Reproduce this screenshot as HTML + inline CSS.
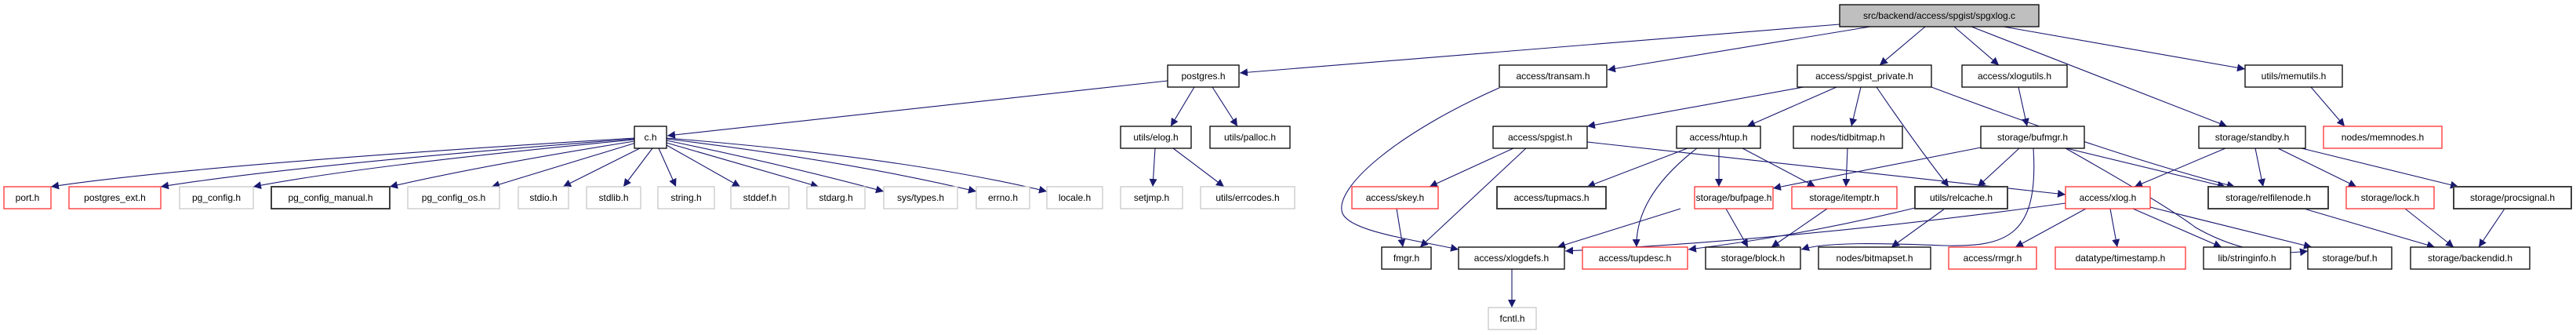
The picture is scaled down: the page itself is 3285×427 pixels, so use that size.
<!DOCTYPE html>
<html><head><meta charset="utf-8"><style>
html,body{margin:0;padding:0;background:#fff;width:3285px;height:427px;overflow:hidden}
svg{display:block}
text{font-family:"Liberation Sans",sans-serif;font-size:12px;fill:#000;text-anchor:middle}
.n{fill:#fff;stroke:#000;stroke-width:1.3}
.r{fill:#fff;stroke:#ff3030;stroke-width:1.3}
.g{fill:#fff;stroke:#c8c8c8;stroke-width:1.3}
.d{fill:#fff;stroke:#404040;stroke-width:2}
.e{fill:none;stroke:#191970;stroke-width:1.1;marker-end:url(#a)}
</style></head><body>
<svg width="3285" height="427" viewBox="0 0 3285 427" xmlns="http://www.w3.org/2000/svg">
<defs><marker id="a" markerUnits="userSpaceOnUse" markerWidth="12" markerHeight="10" refX="10" refY="5" orient="auto"><path d="M0,0 L10,5 L0,10 z" fill="#191970"/></marker></defs>
<g>
<!-- edges -->
<path class="e" d="M2346,31 L1581,93"/>
<path class="e" d="M2385,34 L2050,89"/>
<path class="e" d="M2455,34 L2397,83"/>
<path class="e" d="M2492,34 L2549,83"/>
<path class="e" d="M2514,34 L2840,161"/>
<path class="e" d="M2555,34 L2863,88"/>
<path class="e" d="M1489,103 L851,173"/>
<path class="e" d="M1523,111 L1493,161"/>
<path class="e" d="M1546,111 L1578,161"/>
<path class="e" d="M1912,112 C1780,170 1700,240 1712,272 C1722,295 1800,305 1860,318"/>
<path class="e" d="M809,176 Q250,210 65,238"/>
<path class="e" d="M809,177 Q380,210 205,238"/>
<path class="e" d="M809,178 Q470,210 323,238"/>
<path class="e" d="M809,180 Q620,210 497,238"/>
<path class="e" d="M811,182 L627,238"/>
<path class="e" d="M818,188 L718,238"/>
<path class="e" d="M832,189 L795,238"/>
<path class="e" d="M840,189 L862,238"/>
<path class="e" d="M850,185 L944,238"/>
<path class="e" d="M850,182 L1044,238"/>
<path class="e" d="M850,179 Q1000,210 1127,244"/>
<path class="e" d="M850,177 Q1080,205 1245,244"/>
<path class="e" d="M850,176 Q1150,200 1335,244"/>
<path class="e" d="M1473,189 L1470,238"/>
<path class="e" d="M1496,189 L1561,238"/>
<path class="e" d="M2300,111 L2024,161"/>
<path class="e" d="M2342,111 L2228,161"/>
<path class="e" d="M2373,111 L2361,161"/>
<path class="e" d="M2393,111 Q2440,180 2485,238"/>
<path class="e" d="M2463,111 Q2700,200 2850,238"/>
<path class="e" d="M2574,111 L2585,161"/>
<path class="e" d="M2947,111 L2990,161"/>
<path class="e" d="M1930,189 L1823,238"/>
<path class="e" d="M1946,189 L1811,315"/>
<path class="e" d="M2024,181 L2634,248"/>
<path class="e" d="M2152,189 L2024,238"/>
<path class="e" d="M2192,189 L2192,238"/>
<path class="e" d="M2164,189 Q2085,250 2087,315"/>
<path class="e" d="M2222,189 L2315,238"/>
<path class="e" d="M2356,189 L2354,238"/>
<path class="e" d="M2526,188 L2261,240"/>
<path class="e" d="M2575,189 L2522,238"/>
<path class="e" d="M2593,189 C2600,300 2560,315 2480,313 C2400,310 2330,308 2297,318"/>
<path class="e" d="M2635,189 L2838,238"/>
<path class="e" d="M2634,189 Q2760,260 2800,290 Q2870,330 2943,320"/>
<path class="e" d="M2838,189 L2722,238"/>
<path class="e" d="M2876,189 L2886,238"/>
<path class="e" d="M2905,189 L3005,238"/>
<path class="e" d="M2935,189 L3135,238"/>
<path class="e" d="M1781,266 L1789,315"/>
<path class="e" d="M2143,266 L1986,315"/>
<path class="e" d="M2201,266 L2229,315"/>
<path class="e" d="M2330,266 L2259,315"/>
<path class="e" d="M2634,259 Q2300,305 1996,320"/>
<path class="e" d="M2442,265 Q2300,300 2153,318"/>
<path class="e" d="M2480,266 L2412,315"/>
<path class="e" d="M2660,266 L2570,315"/>
<path class="e" d="M2691,266 L2700,315"/>
<path class="e" d="M2720,266 L2833,315"/>
<path class="e" d="M2742,264 L2948,315"/>
<path class="e" d="M2938,266 L3105,315"/>
<path class="e" d="M3067,266 L3129,315"/>
<path class="e" d="M3194,266 L3161,315"/>
<path class="e" d="M1928,343 L1928,392"/>
</g>
<g>
<!-- row1 -->
<rect x="2346" y="6" width="254" height="28" style="fill:#bfbfbf;stroke:#000;stroke-width:1.3"/><text x="2473" y="24">src/backend/access/spgist/spgxlog.c</text>
<!-- row2 -->
<rect class="n" x="1489" y="83" width="91" height="28"/><text x="1534.5" y="101">postgres.h</text>
<rect class="n" x="1912" y="83" width="137" height="28"/><text x="1980.5" y="101">access/transam.h</text>
<rect class="n" x="2292" y="83" width="171" height="28"/><text x="2377.5" y="101">access/spgist_private.h</text>
<rect class="n" x="2502" y="83" width="134" height="28"/><text x="2569" y="101">access/xlogutils.h</text>
<rect class="n" x="2863" y="83" width="124" height="28"/><text x="2925" y="101">utils/memutils.h</text>
<!-- row3 -->
<rect class="n" x="809" y="161" width="41" height="28"/><text x="829.5" y="179">c.h</text>
<rect class="n" x="1429" y="161" width="90" height="28"/><text x="1474" y="179">utils/elog.h</text>
<rect class="n" x="1543" y="161" width="102" height="28"/><text x="1594" y="179">utils/palloc.h</text>
<rect class="n" x="1904" y="161" width="120" height="28"/><text x="1964" y="179">access/spgist.h</text>
<rect class="n" x="2138" y="161" width="107" height="28"/><text x="2191.5" y="179">access/htup.h</text>
<rect class="n" x="2287" y="161" width="139" height="28"/><text x="2356.5" y="179">nodes/tidbitmap.h</text>
<rect class="n" x="2526" y="161" width="132" height="28"/><text x="2592" y="179">storage/bufmgr.h</text>
<rect class="n" x="2804" y="161" width="136" height="28"/><text x="2872" y="179">storage/standby.h</text>
<rect class="r" x="2963" y="161" width="151" height="28"/><text x="3038.5" y="179">nodes/memnodes.h</text>
<!-- row4 -->
<rect class="r" x="5" y="238" width="60" height="28"/><text x="35" y="256">port.h</text>
<rect class="r" x="88" y="238" width="117" height="28"/><text x="146.5" y="256">postgres_ext.h</text>
<rect class="g" x="229" y="238" width="94" height="28"/><text x="276" y="256">pg_config.h</text>
<rect class="d" x="346" y="238" width="151" height="28"/><text x="421.5" y="256">pg_config_manual.h</text>
<rect class="g" x="520" y="238" width="117" height="28"/><text x="578.5" y="256">pg_config_os.h</text>
<rect class="g" x="661" y="238" width="64" height="28"/><text x="693" y="256">stdio.h</text>
<rect class="g" x="748" y="238" width="69" height="28"/><text x="782.5" y="256">stdlib.h</text>
<rect class="g" x="839" y="238" width="72" height="28"/><text x="875" y="256">string.h</text>
<rect class="g" x="932" y="238" width="74" height="28"/><text x="969" y="256">stddef.h</text>
<rect class="g" x="1029" y="238" width="74" height="28"/><text x="1066" y="256">stdarg.h</text>
<rect class="g" x="1127" y="238" width="94" height="28"/><text x="1174" y="256">sys/types.h</text>
<rect class="g" x="1245" y="238" width="68" height="28"/><text x="1279" y="256">errno.h</text>
<rect class="g" x="1335" y="238" width="71" height="28"/><text x="1370.5" y="256">locale.h</text>
<rect class="g" x="1429" y="238" width="79" height="28"/><text x="1468.5" y="256">setjmp.h</text>
<rect class="g" x="1531" y="238" width="120" height="28"/><text x="1591" y="256">utils/errcodes.h</text>
<rect class="r" x="1724" y="238" width="110" height="28"/><text x="1779" y="256">access/skey.h</text>
<rect class="d" x="1909" y="238" width="139" height="28"/><text x="1978.5" y="256">access/tupmacs.h</text>
<rect class="r" x="2161" y="238" width="100" height="28"/><text x="2211" y="256">storage/bufpage.h</text>
<rect class="r" x="2285" y="238" width="134" height="28"/><text x="2352" y="256">storage/itemptr.h</text>
<rect class="d" x="2442" y="238" width="118" height="28"/><text x="2501" y="256">utils/relcache.h</text>
<rect class="r" x="2634" y="238" width="108" height="28"/><text x="2688" y="256">access/xlog.h</text>
<rect class="d" x="2816" y="238" width="153" height="28"/><text x="2892.5" y="256">storage/relfilenode.h</text>
<rect class="r" x="2992" y="238" width="112" height="28"/><text x="3048" y="256">storage/lock.h</text>
<rect class="d" x="3129" y="238" width="150" height="28"/><text x="3204" y="256">storage/procsignal.h</text>
<!-- row5 -->
<rect class="n" x="1762" y="315" width="63" height="28"/><text x="1793.5" y="333">fmgr.h</text>
<rect class="n" x="1860" y="315" width="135" height="28"/><text x="1927.5" y="333">access/xlogdefs.h</text>
<rect class="r" x="2018" y="315" width="134" height="28"/><text x="2085" y="333">access/tupdesc.h</text>
<rect class="n" x="2175" y="315" width="121" height="28"/><text x="2235.5" y="333">storage/block.h</text>
<rect class="n" x="2319" y="315" width="143" height="28"/><text x="2390.5" y="333">nodes/bitmapset.h</text>
<rect class="r" x="2485" y="315" width="112" height="28"/><text x="2541" y="333">access/rmgr.h</text>
<rect class="r" x="2621" y="315" width="166" height="28"/><text x="2704" y="333">datatype/timestamp.h</text>
<rect class="n" x="2810" y="315" width="111" height="28"/><text x="2865.5" y="333">lib/stringinfo.h</text>
<rect class="n" x="2943" y="315" width="107" height="28"/><text x="2996.5" y="333">storage/buf.h</text>
<rect class="n" x="3074" y="315" width="152" height="28"/><text x="3150" y="333">storage/backendid.h</text>
<!-- row6 -->
<rect class="g" x="1898" y="392" width="61" height="28"/><text x="1928.5" y="410">fcntl.h</text>
</g>
</svg>
</body></html>
